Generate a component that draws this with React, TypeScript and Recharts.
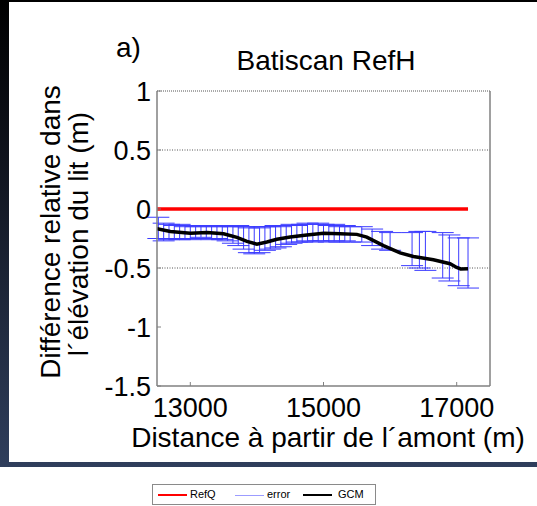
import React from 'react';
import { ComposedChart, Line, XAxis, YAxis, ErrorBar, ReferenceLine, Legend, Label } from 'recharts';

const FONT = '"Liberation Sans", Arial, Helvetica, sans-serif';

// axis ticks
const xTicks = [13000, 15000, 17000];
const yTicks = [-1.5, -1, -0.5, 0, 0.5, 1];
const gridLevels = [0.5, -0.5];

// RefQ (reference, zero line)
const refqX = [12500, 17170];
const refqY = [0, 0];

// GCM mean curve
const gcmX = [12500, 12700, 13000, 13250, 13500, 13700, 13850, 14000, 14150, 14300, 14500, 14750, 15000, 15250, 15500, 15650, 15900, 16150, 16350, 16650, 16900, 17000, 17060, 17170];
const gcmY = [-0.167, -0.19, -0.205, -0.2, -0.21, -0.24, -0.275, -0.298, -0.28, -0.257, -0.237, -0.22, -0.205, -0.21, -0.215, -0.238, -0.31, -0.372, -0.402, -0.43, -0.464, -0.495, -0.508, -0.507];

// error bars (low / high bounds)
const errX = [12520, 12600, 12680, 12760, 12840, 12920, 13000, 13080, 13160, 13240, 13320, 13400, 13480, 13560, 13640, 13720, 13800, 13880, 13960, 14040, 14120, 14200, 14280, 14360, 14440, 14520, 14600, 14680, 14760, 14840, 14920, 15000, 15080, 15160, 15240, 15320, 15400, 15575, 15730, 15880, 16000, 16330, 16440, 16530, 16790, 16890, 17030, 17170];
const errLow = [-0.25, -0.27, -0.26, -0.25, -0.26, -0.25, -0.26, -0.25, -0.24, -0.25, -0.26, -0.25, -0.26, -0.27, -0.29, -0.31, -0.34, -0.37, -0.38, -0.37, -0.35, -0.34, -0.33, -0.32, -0.3, -0.29, -0.28, -0.28, -0.27, -0.28, -0.27, -0.27, -0.28, -0.27, -0.28, -0.27, -0.28, -0.28, -0.31, -0.34, -0.35, -0.48, -0.5, -0.52, -0.585, -0.61, -0.65, -0.67];
const errHigh = [-0.07, -0.12, -0.13, -0.14, -0.13, -0.15, -0.14, -0.15, -0.14, -0.15, -0.14, -0.15, -0.14, -0.15, -0.15, -0.14, -0.15, -0.16, -0.15, -0.16, -0.15, -0.15, -0.14, -0.15, -0.14, -0.13, -0.14, -0.13, -0.12, -0.13, -0.12, -0.13, -0.14, -0.13, -0.15, -0.14, -0.15, -0.15, -0.17, -0.19, -0.2, -0.2, -0.19, -0.19, -0.2, -0.22, -0.245, -0.245];

const refqData = refqX.map((x, i) => ({ x, y: refqY[i] }));
const gcmData = gcmX.map((x, i) => ({ x, y: gcmY[i] }));
const errData = errX.map((x, i) => ({
  x,
  mid: (errLow[i] + errHigh[i]) / 2,
  half: (errHigh[i] - errLow[i]) / 2,
}));

const legendItems = [
  { name: 'RefQ', color: '#ff0000', width: 2, lineLeft: 5, textLeft: 37 },
  { name: 'error', color: '#9c9cff', width: 1, lineLeft: 82, textLeft: 114 },
  { name: 'GCM', color: '#000000', width: 2, lineLeft: 150, textLeft: 185 },
];

const LegendBox = () => (
  <div
    style={{
      position: 'relative',
      width: 222,
      height: 19,
      border: '1px solid #8a8a8a',
      background: '#fff',
      fontFamily: FONT,
      fontSize: 11,
      color: '#000',
    }}
  >
    {legendItems.map((it) => (
      <React.Fragment key={it.name}>
        <div
          style={{
            position: 'absolute',
            left: it.lineLeft,
            top: 10 - it.width / 2,
            width: 29,
            height: it.width,
            background: it.color,
          }}
        />
        <div style={{ position: 'absolute', left: it.textLeft, top: 3, lineHeight: '13px' }}>{it.name}</div>
      </React.Fragment>
    ))}
  </div>
);

const TitleContent = () => (
  <g fontFamily={FONT} fill="#000">
    <text x={116} y={57} fontSize={28}>a)</text>
    <text x={326} y={70} fontSize={28} textAnchor="middle">Batiscan RefH</text>
  </g>
);

const XLabelContent = () => (
  <text x={328} y={447} fontSize={28} textAnchor="middle" fontFamily={FONT} fill="#000">
    Distance à partir de l´amont (m)
  </text>
);

const YLabelContent = () => (
  <g fontFamily={FONT} fill="#000" fontSize={28}>
    <text transform="translate(60,232) rotate(-90)" textAnchor="middle">Différence relative dans</text>
    <text transform="translate(88,234) rotate(-90)" textAnchor="middle">l´élévation du lit (m)</text>
  </g>
);

const tickStyle = { fontSize: 27, fill: '#000', fontFamily: FONT };
const axisGray = '#808080';

export default function App() {
  return (
    <div style={{ position: 'absolute', left: 0, top: 0, width: 537, height: 506, background: '#fff', overflow: 'hidden' }}>
      <div
        style={{
          position: 'absolute',
          left: 0,
          top: 0,
          width: 537,
          height: 467,
          background: 'linear-gradient(to bottom, #000000 0%, #10141e 35%, #2f3e5c 100%)',
        }}
      />
      <div style={{ position: 'absolute', left: 9, top: 2, width: 528, height: 460, background: '#fff' }} />
      <div style={{ position: 'absolute', left: 0, top: 0 }}>
        <ComposedChart width={537} height={506} margin={{ top: 71, right: 27, bottom: 90, left: 0 }}>
          <XAxis
            dataKey="x"
            type="number"
            domain={[12500, 17500]}
            ticks={xTicks}
            allowDataOverflow
            height={30}
            tickSize={-4}
            tickMargin={16}
            tick={tickStyle}
            axisLine={{ stroke: axisGray, strokeWidth: 1.5 }}
            tickLine={{ stroke: axisGray }}
          >
            <Label content={XLabelContent} />
          </XAxis>
          <XAxis
            xAxisId="top"
            orientation="top"
            dataKey="x"
            type="number"
            domain={[12500, 17500]}
            ticks={xTicks}
            allowDataOverflow
            height={20}
            tickSize={-4}
            tick={false}
            axisLine={{ stroke: '#555', strokeDasharray: '1 1' }}
            tickLine={{ stroke: axisGray }}
          >
            <Label content={TitleContent} />
          </XAxis>
          <YAxis
            type="number"
            domain={[-1.5, 1]}
            ticks={yTicks}
            allowDataOverflow
            width={157}
            tickSize={-4}
            tickMargin={10}
            tick={tickStyle}
            axisLine={{ stroke: axisGray, strokeWidth: 1.5 }}
            tickLine={{ stroke: axisGray }}
          >
            <Label content={YLabelContent} />
          </YAxis>
          <YAxis
            yAxisId="right"
            orientation="right"
            type="number"
            domain={[-1.5, 1]}
            ticks={yTicks}
            allowDataOverflow
            width={20}
            tickSize={-4}
            tick={false}
            axisLine={{ stroke: axisGray, strokeWidth: 1.5 }}
            tickLine={{ stroke: axisGray }}
          />
          {gridLevels.map((g) => (
            <ReferenceLine key={g} y={g} stroke="#555" strokeDasharray="1 1.5" strokeWidth={1} />
          ))}
          <Line
            data={errData}
            dataKey="mid"
            name="error"
            stroke="none"
            dot={false}
            activeDot={false}
            isAnimationActive={false}
            legendType="none"
          >
            <ErrorBar dataKey="half" direction="y" width={11} stroke="#3b3bff" strokeWidth={1} isAnimationActive={false} />
          </Line>
          <Line
            data={gcmData}
            dataKey="y"
            name="GCM"
            stroke="#000"
            strokeWidth={3.5}
            dot={false}
            activeDot={false}
            isAnimationActive={false}
          />
          <Line
            data={refqData}
            dataKey="y"
            name="RefQ"
            stroke="#ff0000"
            strokeWidth={3.5}
            dot={false}
            activeDot={false}
            isAnimationActive={false}
          />
          <Legend
            layout="horizontal"
            verticalAlign="middle"
            align="center"
            wrapperStyle={{ position: 'absolute', left: 152, top: 484, width: 224, height: 21, margin: 0, padding: 0 }}
            content={() => <LegendBox />}
          />
        </ComposedChart>
      </div>
    </div>
  );
}
